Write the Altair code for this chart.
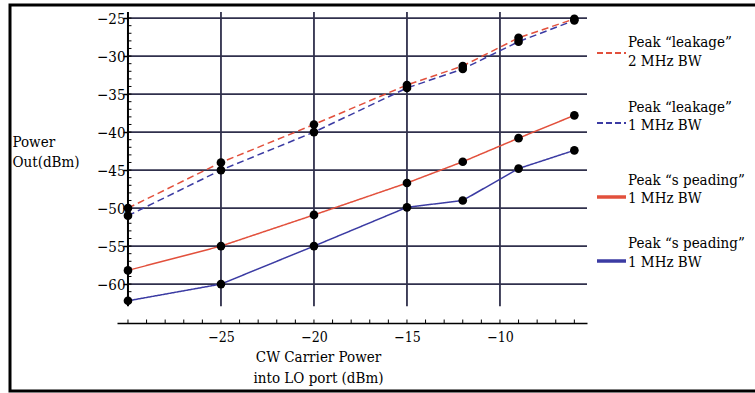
import altair as alt
import pandas as pd

# ---- data ----
x_vals = [-30, -25, -20, -15, -12, -9, -6]
leak_2mhz = [-50.0, -44.0, -39.0, -33.8, -31.3, -27.6, -25.1]
leak_1mhz = [-51.0, -45.0, -40.0, -34.2, -31.7, -28.1, -25.3]
spread_red = [-58.2, -55.0, -50.9, -46.7, -43.9, -40.8, -37.8]
spread_blue = [-62.2, -60.0, -55.0, -49.9, -49.0, -44.8, -42.4]

series_names = ["leak2", "leak1", "spreadR", "spreadB"]
legend_line1 = ["Peak \u201cleakage\u201d", "Peak \u201cleakage\u201d",
                "Peak \u201cs peading\u201d", "Peak \u201cs peading\u201d"]
legend_line2 = ["2 MHz BW", "1 MHz BW", "1 MHz BW", "1 MHz BW"]

x_major = [-25, -20, -15, -10]
y_major = [-25, -30, -35, -40, -45, -50, -55, -60]
x_minor = list(range(-30, -5))
y_minor = list(range(-62, -24))

# ---- styles / layout ----
RED = "#e2503c"
BLUE = "#3b3ba3"
GRID = "#30304c"
FONT = "DejaVu Serif Condensed, DejaVu Serif"
colors = [RED, BLUE, RED, BLUE]
dashes = [[7, 4], [7, 4], [1, 0], [1, 0]]

W, H = 470, 311
XDOM = [-30.59, -5.32]
YDOM = [-65.12, -24.2]
ppx_x = W / (XDOM[1] - XDOM[0])
ppx_y = H / (YDOM[1] - YDOM[0])
Y_LINE_BOTTOM = -62.9

xs = alt.Scale(domain=XDOM, nice=False, zero=False)
ys = alt.Scale(domain=YDOM, nice=False, zero=False)

rows = []
for name, vals in zip(series_names, [leak_2mhz, leak_1mhz, spread_red, spread_blue]):
    for xv, yv in zip(x_vals, vals):
        rows.append({"series": name, "x": xv, "y": yv})
df = pd.DataFrame(rows)

# grid lines
hgrid = pd.DataFrame({"y": y_major, "x1": -30.0, "x2": XDOM[1]})
vgrid = pd.DataFrame({"x": x_major, "y1": Y_LINE_BOTTOM, "y2": YDOM[1]})
h_rules = alt.Chart(hgrid).mark_rule(color=GRID, strokeWidth=1.8).encode(
    y=alt.Y("y:Q", scale=ys), x=alt.X("x1:Q", scale=xs), x2="x2:Q")
v_rules = alt.Chart(vgrid).mark_rule(color=GRID, strokeWidth=1.8).encode(
    x=alt.X("x:Q", scale=xs), y=alt.Y("y1:Q", scale=ys), y2="y2:Q")

# y axis line at x = -30
yaxis_df = pd.DataFrame({"x": [-30.0], "y1": [Y_LINE_BOTTOM], "y2": [YDOM[1]]})
yaxis_line = alt.Chart(yaxis_df).mark_rule(color="black", strokeWidth=2).encode(
    x=alt.X("x:Q", scale=xs), y=alt.Y("y1:Q", scale=ys), y2="y2:Q")

# minor ticks on y axis (right side) and x axis (upwards)
ymin_df = pd.DataFrame({"y": y_minor, "x1": -30.0, "x2": -30.0 + 3.5 / ppx_x})
ymin_ticks = alt.Chart(ymin_df).mark_rule(color="black", strokeWidth=1).encode(
    y=alt.Y("y:Q", scale=ys), x=alt.X("x1:Q", scale=xs), x2="x2:Q")
xmin_df = pd.DataFrame({"x": x_minor, "y1": YDOM[0], "y2": YDOM[0] + 3.5 / ppx_y})
xmin_ticks = alt.Chart(xmin_df).mark_rule(color="black", strokeWidth=1).encode(
    x=alt.X("x:Q", scale=xs), y=alt.Y("y1:Q", scale=ys), y2="y2:Q")

color_enc = alt.Color("series:N", scale=alt.Scale(domain=series_names, range=colors), legend=None)
dash_enc = alt.StrokeDash("series:N", scale=alt.Scale(domain=series_names, range=dashes), legend=None)

lines = alt.Chart(df).mark_line(strokeWidth=1.5).encode(
    x=alt.X("x:Q", scale=xs,
            axis=alt.Axis(values=x_major, grid=False, tickSize=0, domainColor="black",
                          domainWidth=1.5, labelPadding=7, labelFont=FONT, labelFontSize=14,
                          labelColor="black",
                          title=["CW Carrier Power", "into LO port (dBm)"],
                          titleFont=FONT, titleFontSize=15, titleFontWeight="normal",
                          titleColor="black", titleLineHeight=21,
                          titleX=201, titleY=26, titleAlign="center", titleBaseline="top")),
    y=alt.Y("y:Q", scale=ys,
            axis=alt.Axis(values=y_major, grid=False, domain=False, offset=-11,
                          tickSize=5, tickColor="black", tickWidth=1.5,
                          labelPadding=-2, labelFont=FONT, labelFontSize=15, labelColor="black",
                          title=["Power", "Out(dBm)"], titleAngle=0,
                          titleFont=FONT, titleFontSize=15, titleFontWeight="normal",
                          titleColor="black", titleLineHeight=20,
                          titleX=-116, titleY=122, titleAlign="left", titleBaseline="top")),
    color=color_enc,
    strokeDash=dash_enc,
    detail="series:N",
)

points = alt.Chart(df).mark_circle(color="black", size=75, opacity=1).encode(
    x=alt.X("x:Q", scale=xs), y=alt.Y("y:Q", scale=ys))

# ---- legend (drawn at the right) ----
leg_text_x = 511
leg_l1_y = [42, 107, 180, 243]
leg_l2_y = [61, 125, 198, 262]
leg_sym_y = [53, 123, 197, 261]
leg_rows = []
for i, nm in enumerate(series_names):
    leg_rows.append({"series": nm, "t1": legend_line1[i], "t2": legend_line2[i],
                     "y1": leg_l1_y[i] - 12, "y2": leg_l2_y[i] - 12, "ys": leg_sym_y[i] - 12,
                     "dashed": i < 2})
leg_df = pd.DataFrame(leg_rows)

leg_t1 = alt.Chart(leg_df).mark_text(align="left", baseline="middle", font=FONT, fontSize=15,
                                      color="black").encode(
    x=alt.value(leg_text_x), y=alt.Y("y1:Q", scale=None), text="t1:N")
leg_t2 = alt.Chart(leg_df).mark_text(align="left", baseline="middle", font=FONT, fontSize=15,
                                      color="black").encode(
    x=alt.value(leg_text_x), y=alt.Y("y2:Q", scale=None), text="t2:N")
leg_dash = alt.Chart(leg_df).transform_filter("datum.dashed").mark_rule(
    strokeWidth=2, strokeDash=[6, 3]).encode(
    x=alt.value(480), x2=alt.value(509), y=alt.Y("ys:Q", scale=None), color=color_enc)
leg_solid = alt.Chart(leg_df).transform_filter("!datum.dashed").mark_rule(
    strokeWidth=3.5).encode(
    x=alt.value(480), x2=alt.value(509), y=alt.Y("ys:Q", scale=None), color=color_enc)

frame = alt.Chart(pd.DataFrame({"k": [0]})).mark_rect(
    fill=None, stroke="black", strokeWidth=3).encode(
    x=alt.value(-107), x2=alt.value(660), y=alt.value(-7), y2=alt.value(379))

chart = alt.layer(
    frame, h_rules, v_rules, ymin_ticks, xmin_ticks, yaxis_line,
    lines, points, leg_t1, leg_t2, leg_dash, leg_solid
).properties(
    width=W, height=H,
    autosize=alt.AutoSizeParams(type="none"),
    padding={"left": 117, "top": 12, "right": 168, "bottom": 70},
    background="white",
).configure_view(stroke=None)

chart.save("out.html", embed_options={"renderer": "svg", "actions": False})
